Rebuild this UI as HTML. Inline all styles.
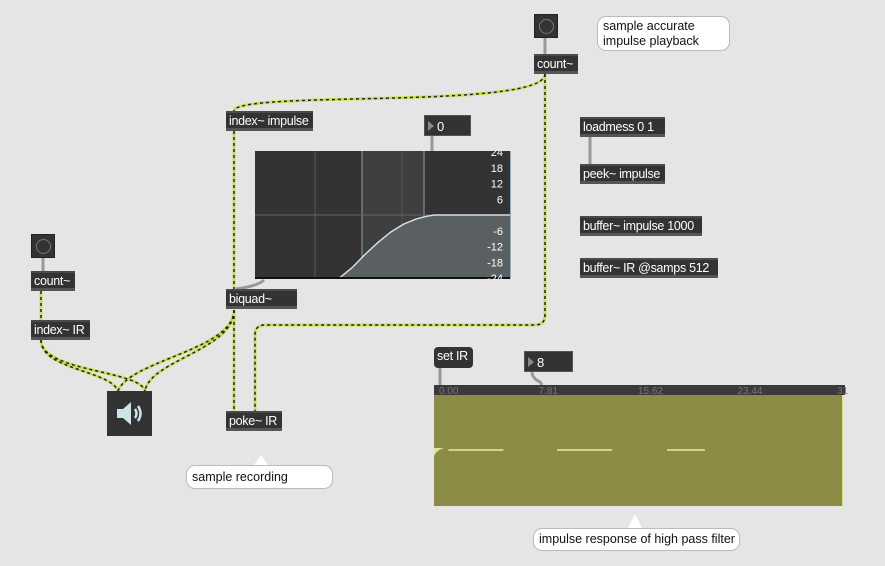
<!DOCTYPE html>
<html><head><meta charset="utf-8"><style>
body{margin:0;background:#e5e5e5;width:885px;height:566px;overflow:hidden;position:relative;font-family:"Liberation Sans",sans-serif}
.obj{position:absolute;background:#333;color:#fff;font-size:12.5px;letter-spacing:-0.3px;height:20px;padding:0 3px;box-sizing:border-box;border-bottom:3px solid #555;border-top:2px solid #4a4a4a;line-height:16px;white-space:nowrap;overflow:hidden}
.btn{position:absolute;background:#333;width:24px;height:24px;box-sizing:border-box;border:1px solid #222}
.btn::after{content:"";position:absolute;left:4px;top:4px;width:13px;height:13px;border:1.5px solid #777;border-radius:50%}
.num{position:absolute;background:#333;color:#fff;font-size:13px;height:21px;line-height:21px;box-sizing:border-box;border:1px solid #555;padding-left:12px}
.num::before{content:"";position:absolute;left:3px;top:5px;border-left:6px solid #888;border-top:5px solid transparent;border-bottom:5px solid transparent}
.cmt{position:absolute;background:#fff;border:1px solid #bbb;border-radius:9px;font-size:12.5px;color:#111;padding:2px 5px;box-sizing:border-box;line-height:15px;white-space:nowrap}
svg{position:absolute;left:0;top:0}
</style></head><body>
<svg width="885" height="566">
<g fill="none" stroke-width="3" stroke="#c8e060">
<path d="M545 74 C545 110 234 90 234 111"/><path d="M234 131 L234 289"/><path d="M41 291 L41 320"/>
<path d="M41 340 C41 370 110 370 118 391"/><path d="M41 340 C41 372 140 370 145 391"/>
<path d="M234 310 C234 350 130 360 118 391"/><path d="M234 310 C234 350 150 360 145 391"/>
<path d="M234 310 L234 411"/><path d="M545 74 L545 315 Q545 325 535 325 L265 325 Q255 325 255 335 L255 411"/>
</g>
<g fill="none" stroke-width="1.5" stroke="#222" stroke-dasharray="3 3">
<path d="M545 74 C545 110 234 90 234 111"/><path d="M234 131 L234 289"/><path d="M41 291 L41 320"/>
<path d="M41 340 C41 370 110 370 118 391"/><path d="M41 340 C41 372 140 370 145 391"/>
<path d="M234 310 C234 350 130 360 118 391"/><path d="M234 310 C234 350 150 360 145 391"/>
<path d="M234 310 L234 411"/><path d="M545 74 L545 315 Q545 325 535 325 L265 325 Q255 325 255 335 L255 411"/>
</g>
<g stroke="#999" stroke-width="3" fill="none">
<path d="M545 38 L545 54"/><path d="M43 258 L43 271"/><path d="M590 137 L590 164"/><path d="M432 136 L432 151"/>
<path d="M440 368 L440 385"/><path d="M532 372 Q532 378 540 382 L542 385"/><path d="M264 280 Q258 286 236 289"/>
</g>
</svg>

<div class="btn" style="left:534px;top:14px"></div>
<div class="obj" style="left:534px;top:54px;width:44px">count~</div>
<div class="cmt" style="left:597px;top:16px;width:133px;height:35px">sample accurate<br>impulse playback</div>
<div class="obj" style="left:226px;top:111px;width:87px">index~ impulse</div>
<div class="num" style="left:424px;top:115px;width:47px">0</div>

<svg id="fg" style="left:255px;top:151px" width="256" height="128"></svg>

<div class="obj" style="left:226px;top:289px;width:71px">biquad~</div>
<div class="obj" style="left:580px;top:117px;width:85px">loadmess 0 1</div>
<div class="obj" style="left:580px;top:164px;width:85px">peek~ impulse</div>
<div class="obj" style="left:580px;top:216px;width:122px">buffer~ impulse 1000</div>
<div class="obj" style="left:580px;top:258px;width:138px">buffer~ IR @samps 512</div>
<div class="btn" style="left:31px;top:234px"></div>
<div class="obj" style="left:31px;top:271px;width:44px">count~</div>
<div class="obj" style="left:31px;top:320px;width:59px">index~ IR</div>
<div style="position:absolute;left:107px;top:391px;width:45px;height:45px;background:#333">
<svg width="45" height="45" style="position:absolute;left:0;top:0"><path d="M10 18 H16 L24 11 V34 L16 27 H10 Z" fill="#cde4e8"/><path d="M28 18 Q31 22.5 28 27 M31 15 Q36 22.5 31 30" stroke="#cde4e8" stroke-width="2.5" fill="none"/></svg></div>
<div class="obj" style="left:226px;top:411px;width:56px">poke~ IR</div>
<div class="cmt" style="left:186px;top:465px;width:147px;height:24px;line-height:18px">sample recording</div>
<div style="position:absolute;left:254px;top:455px;width:0;height:0;border-left:7px solid transparent;border-right:7px solid transparent;border-bottom:10px solid #fff"></div>
<div class="obj" style="left:434px;top:347px;width:39px;height:21px;border-radius:4px;border:none;line-height:19px">set IR</div>
<div class="num" style="left:524px;top:351px;width:49px">8</div>

<svg id="wf" style="left:434px;top:385px" width="420" height="122"></svg>
<div class="cmt" style="left:533px;top:528px;width:207px;height:23px;line-height:17px">impulse response of high pass filter</div>
<div style="position:absolute;left:628px;top:514px;width:0;height:0;border-left:7px solid transparent;border-right:7px solid transparent;border-bottom:14px solid #fff"></div>

<script>
const NS="http://www.w3.org/2000/svg";
// filter response data: frequency position (0..1 log) and gain dB
const freqPos=[0,0.33,0.38,0.43,0.48,0.53,0.58,0.63,0.67,0.7,1];
const gainDb=[-24,-24,-20,-15,-10.5,-6.5,-3.5,-1.5,-0.5,0,0];
const dbTicks=[24,18,12,6,-6,-12,-18,-24];
// waveform: segment start/end (ms) and level (-1..1)
const segStart=[1.1,9.4,17.8];
const segEnd=[5.3,13.6,20.7];
const segLevel=[0.01,0.01,0.01];
const timeTicks=["0.00","7.81","15.62","23.44","31"];
function mk(p,t,a){const e=document.createElementNS(NS,t);for(const k in a)e.setAttribute(k,a[k]);p.appendChild(e);return e;}
const fg=document.getElementById('fg');const W=256,H=128;
const fx=v=>v*W, fy=d=>(24-d)/48*(H-2)+1;
mk(fg,'rect',{x:0,y:0,width:W,height:H,fill:'#333'});
mk(fg,'rect',{x:107,y:0,width:62,height:H,fill:'#3f3f3f'});
[60,107,147,169].forEach(x=>mk(fg,'line',{x1:x,y1:0,x2:x,y2:H,stroke:x==107||x==169?'#8aa0a4':'#555','stroke-width':1}));
mk(fg,'line',{x1:0,y1:fy(0),x2:W,y2:fy(0),stroke:'#666'});
let d='M'+fx(freqPos[0])+' '+fy(gainDb[0]);freqPos.forEach((f,i)=>d+=' L'+fx(f)+' '+fy(gainDb[i]));
const area=mk(fg,'path',{d:d+' L'+W+' '+H+' L'+fx(freqPos[1])+' '+H+' Z',fill:'#5a5f61'});


const ln=mk(fg,'path',{d:d,fill:'none',stroke:'#cfe0e4','stroke-width':1.5});


mk(fg,'rect',{x:0,y:H-2,width:W,height:2,fill:'#111'});
mk(fg,'line',{x1:W-0.5,y1:0,x2:W-0.5,y2:H,stroke:'#9ab'});
dbTicks.forEach(v=>{const t=mk(fg,'text',{x:W-8,y:fy(v)+4,'text-anchor':'end',fill:'#fff','font-size':11,'font-family':'Liberation Sans'});t.textContent=v;

});
const wf=document.getElementById('wf');const WW=409,WH=121,tMax=31.25;
const tx=t=>t/tMax*WW, ly=l=>65.5-l*55;
mk(wf,'rect',{x:0,y:0,width:WW,height:WH,fill:'#8c8c45'});
mk(wf,'rect',{x:0,y:0,width:WW+2,height:10,fill:'#3a3a3a'});
mk(wf,'line',{x1:WW-0.5,y1:10,x2:WW-0.5,y2:WH,stroke:'#d8e08a'});
timeTicks.forEach((s,i)=>{const t=mk(wf,'text',{x:5+i*99.5,y:9,fill:'#777','font-size':10,'font-family':'Liberation Sans'});t.textContent=s;

});
const y0=ly(0.01);
mk(wf,'path',{d:'M0 '+(y0-2)+' L10 '+(y0-2)+' Q3 '+(y0)+' 0 '+(y0+6)+' Z',fill:'#dbe79a'});
segStart.forEach((s,i)=>{const l=mk(wf,'line',{x1:tx(s),x2:tx(segEnd[i]),y1:ly(segLevel[i]),y2:ly(segLevel[i]),stroke:'#e4ee9e','stroke-width':1.5});

});
</script>
</body></html>
